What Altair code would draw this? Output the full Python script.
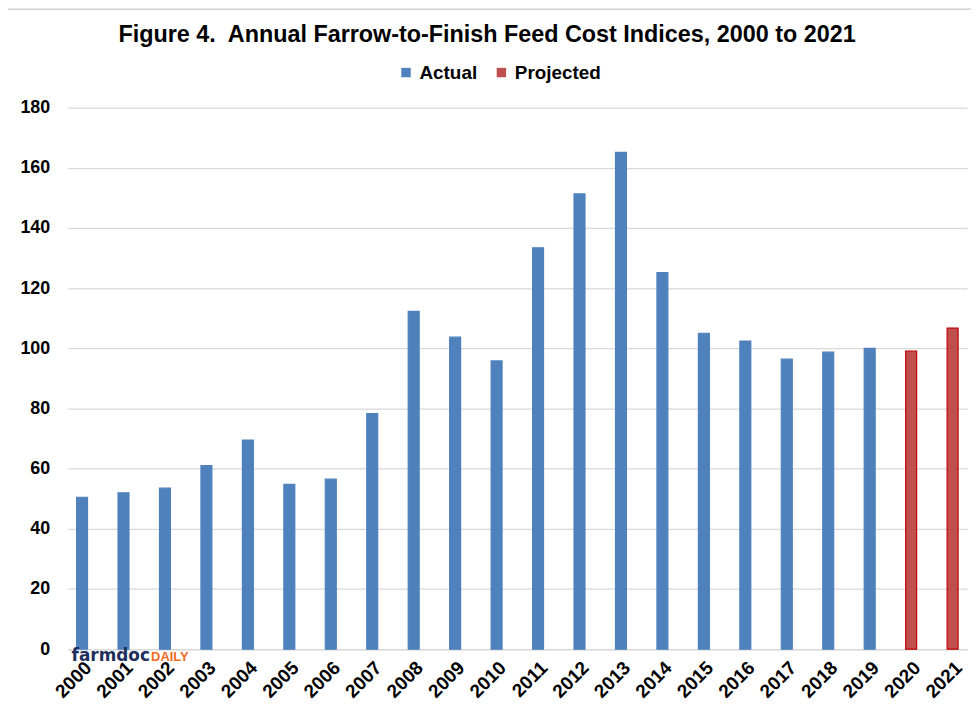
import altair as alt
import pandas as pd

years = [str(y) for y in range(2000, 2022)]
values = [50.5, 52.0, 53.5, 61.0, 69.5, 54.8, 56.5, 78.3, 112.3, 103.7, 95.8,
          133.4, 151.3, 165.1, 125.2, 105.0, 102.4, 96.4, 98.7, 100.0, 99.1, 106.7]
series = ["Actual"] * 20 + ["Projected"] * 2
title_text = "Figure 4.\u00a0 Annual Farrow-to-Finish Feed Cost Indices, 2000 to 2021"

df = pd.DataFrame({"year": years, "value": values, "series": series})

FONT = "Liberation Sans"
W, H = 905, 545

bars = alt.Chart(df).mark_bar(strokeWidth=1.2).encode(
    x=alt.X("year:N", sort=years, title=None,
            scale=alt.Scale(paddingInner=0.736, paddingOuter=0.216),
            axis=alt.Axis(labelAngle=-45, labelFontSize=19, labelFontWeight="bold",
                          labelColor="#000000", labelFont=FONT, ticks=False,
                          domainColor="#d9d9d9", domainWidth=1.5, labelPadding=9)),
    y=alt.Y("value:Q", title=None,
            scale=alt.Scale(domain=[0, 180]),
            axis=alt.Axis(values=list(range(0, 181, 20)), labelFontSize=18,
                          labelFontWeight="bold", labelColor="#000000", labelFont=FONT,
                          ticks=False, domain=False, gridColor="#d9d9d9",
                          gridWidth=1.2, labelPadding=18)),
    color=alt.Color("series:N",
                    scale=alt.Scale(domain=["Actual", "Projected"],
                                    range=["#4f81bd", "#c0504d"]),
                    legend=alt.Legend(title=None, orient="none", direction="horizontal",
                                      legendX=331, legendY=-45, symbolType="square",
                                      symbolSize=90, labelFontSize=19,
                                      labelFontWeight="bold", labelFont=FONT,
                                      labelColor="#000000", columnPadding=14,
                                      labelOffset=4, symbolStrokeWidth=0)),
    stroke=alt.Stroke("series:N",
                      scale=alt.Scale(domain=["Actual", "Projected"],
                                      range=["#4f81bd", "#c00000"]),
                      legend=None),
)

title = alt.Chart(pd.DataFrame({"t": [title_text]})).mark_text(
    font=FONT, fontSize=23.5, fontWeight="bold", color="#000000",
    align="center", baseline="alphabetic").encode(text="t:N", x=alt.value(422), y=alt.value(-66))

wm1 = alt.Chart(pd.DataFrame({"t": ["farmdoc"]})).mark_text(
    font="DejaVu Sans", fontSize=17, fontWeight="bold", color="#1f2f5c",
    align="left", baseline="alphabetic").encode(text="t:N", x=alt.value(4), y=alt.value(557))
wm2 = alt.Chart(pd.DataFrame({"t": ["DAILY"]})).mark_text(
    font=FONT, fontSize=13, fontWeight="bold", color="#f26b21",
    align="left", baseline="alphabetic").encode(text="t:N", x=alt.value(84), y=alt.value(557))

frame_left = alt.Chart(pd.DataFrame({"a": [0]})).mark_rule(color="#d0d0d0", strokeWidth=1.5).encode(
    x=alt.value(-61), y=alt.value(-99), y2=alt.value(620))
frame_top = alt.Chart(pd.DataFrame({"a": [0]})).mark_rule(color="#d0d0d0", strokeWidth=1.5).encode(
    x=alt.value(-61), x2=alt.value(W + 10), y=alt.value(-99))

chart = alt.layer(frame_left, frame_top, bars, wm1, wm2, title).properties(
    width=W, height=H,
    autosize=alt.AutoSizeParams(type="none"),
    padding={"left": 60, "top": 98, "right": 4, "bottom": 63},
).configure_view(stroke=None)

chart.save("out.html", embed_options={"renderer": "svg", "actions": False})
